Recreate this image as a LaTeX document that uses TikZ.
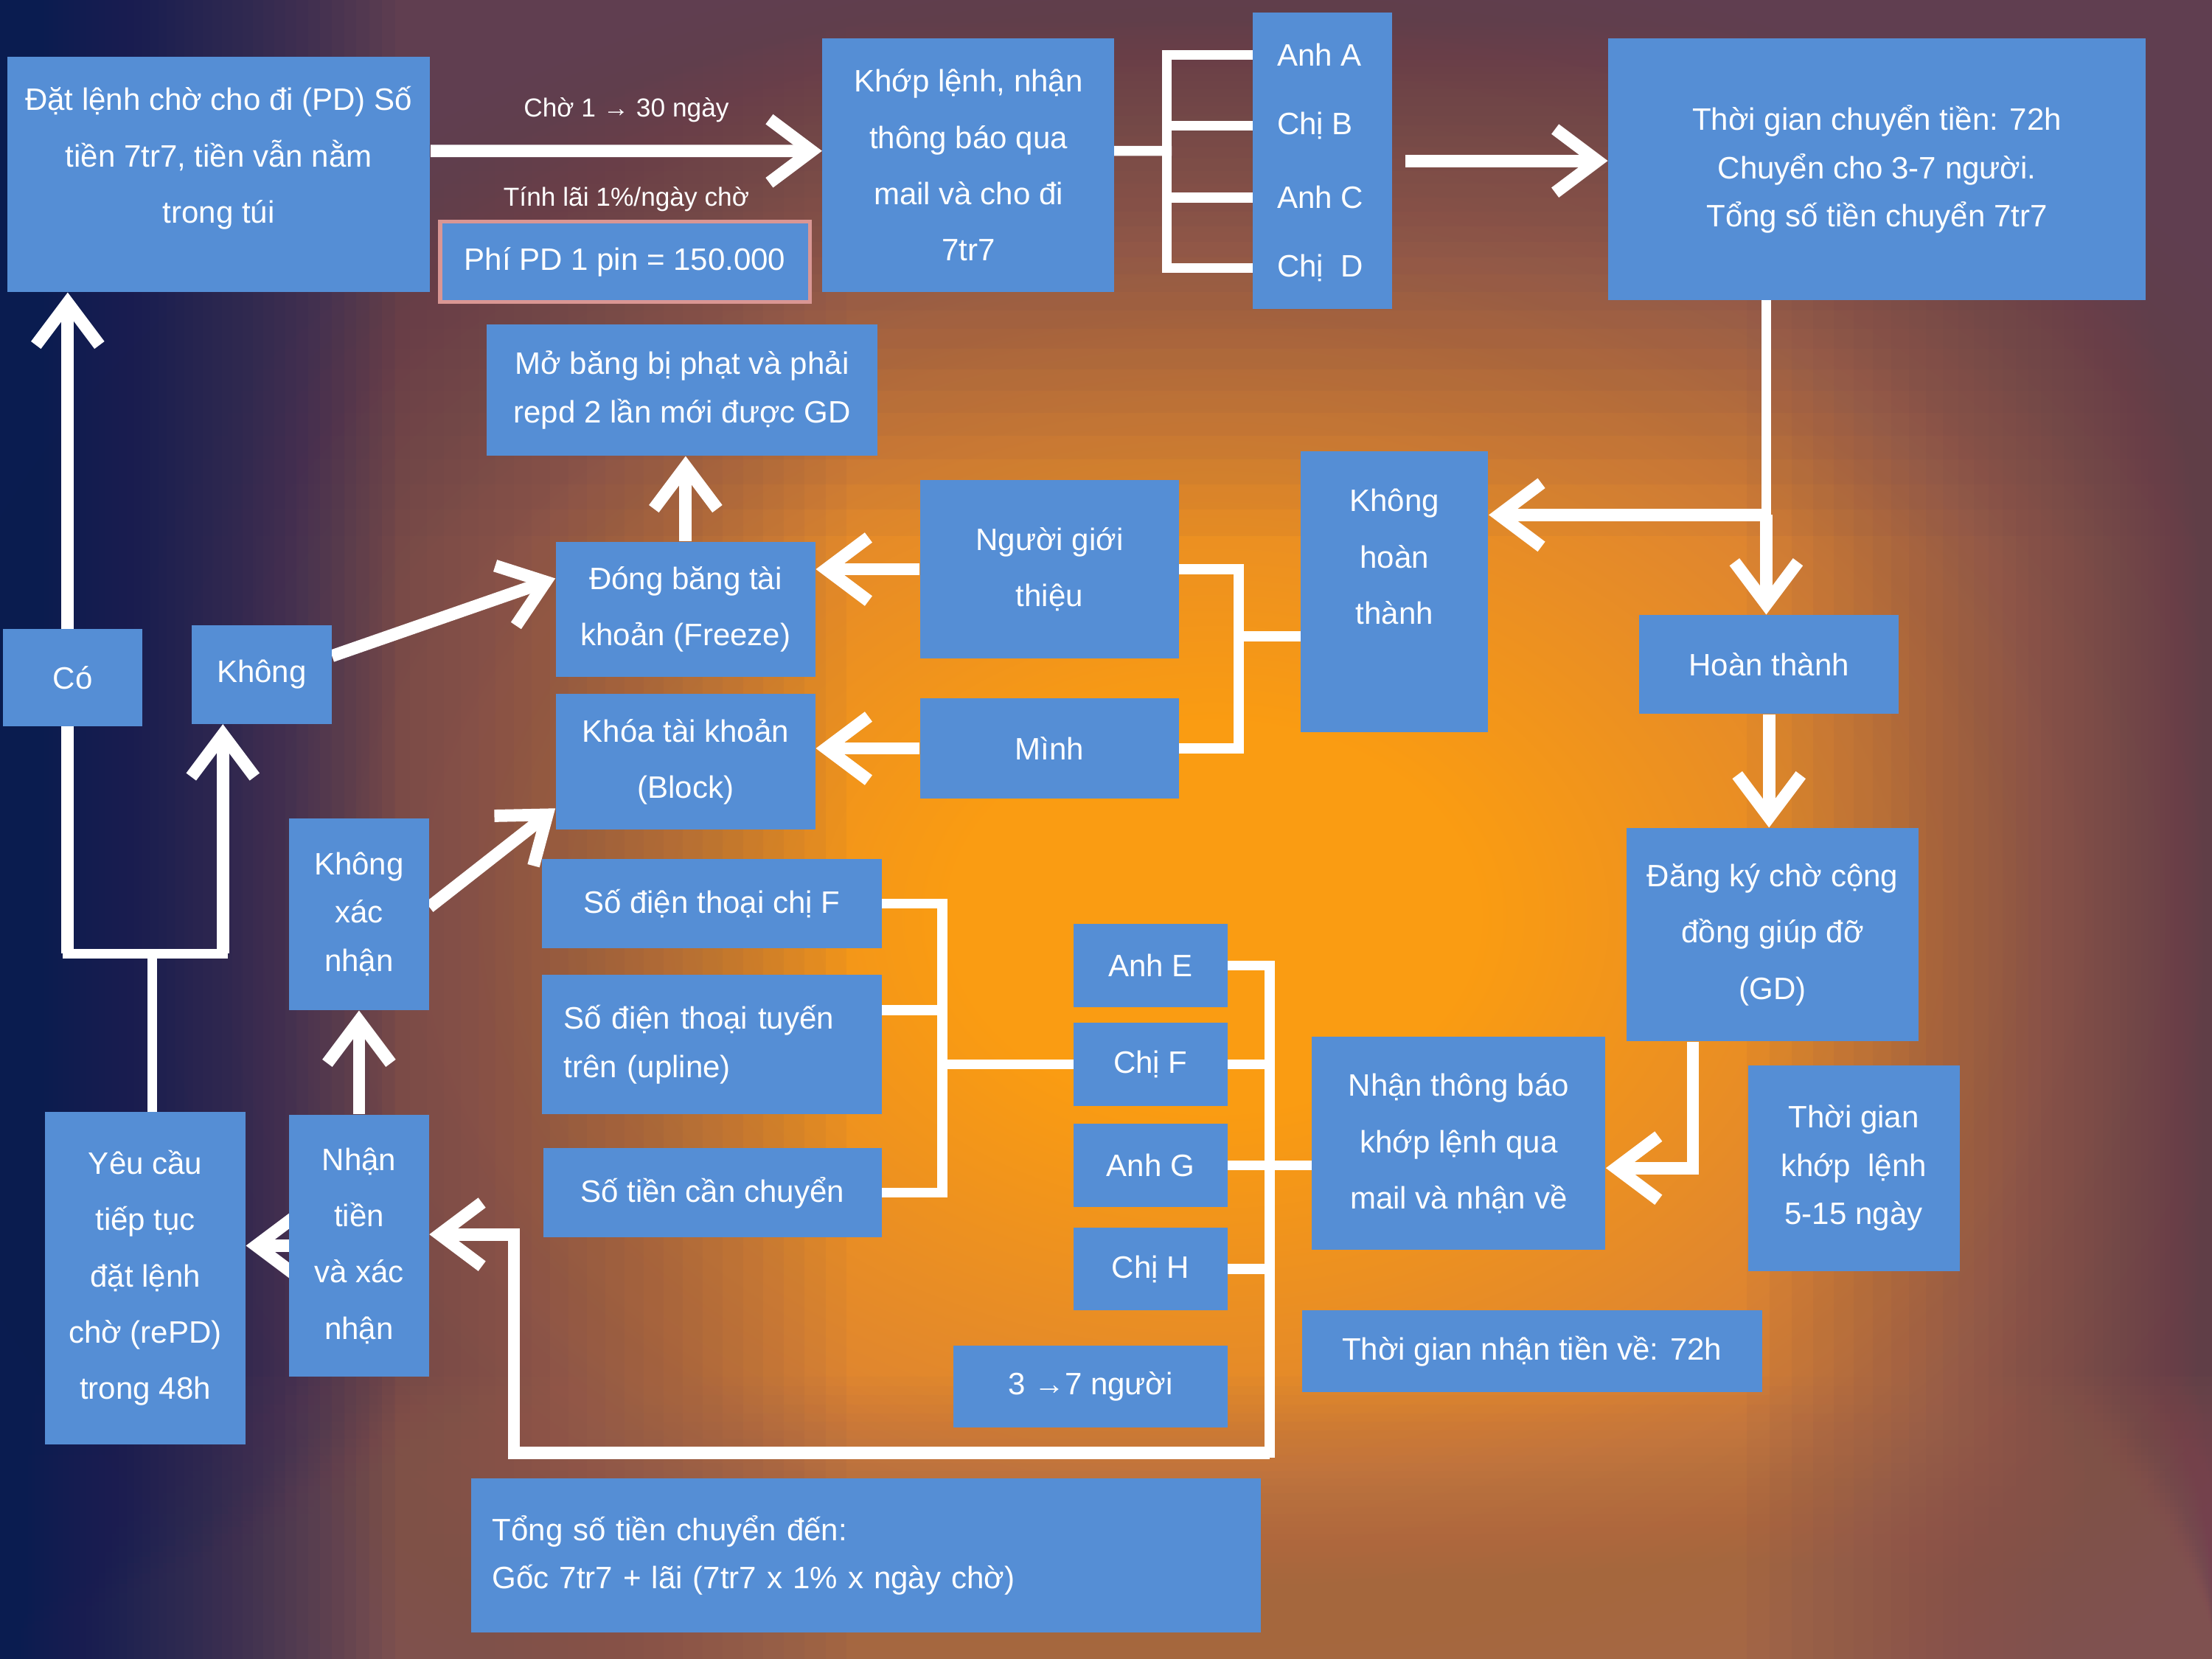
\documentclass[tikz,border=0pt]{standalone}
\usepackage{fontspec}
\setmainfont{Liberation Sans}
\usetikzlibrary{arrows.meta}

\definecolor{boxblue}{RGB}{85,142,213}
\definecolor{pinkline}{RGB}{217,150,148}
\definecolor{navybg}{RGB}{10,28,98}
\definecolor{purplebg}{RGB}{96,62,90}
\definecolor{brownbg}{RGB}{165,103,80}

\pgfdeclareradialshading{glow}{\pgfpointorigin}{rgb(0bp)=(0.98,0.61,0.07); rgb(5bp)=(0.98,0.61,0.07); rgb(14bp)=(0.87,0.52,0.19); rgb(25bp)=(0.647,0.404,0.314); rgb(50bp)=(0.647,0.404,0.314)}

\pgfdeclarelayer{bg}
\pgfdeclarelayer{wires}
\pgfsetlayers{bg,wires,main}

\begin{document}
\begin{tikzpicture}[x=0.02cm, y=-0.02cm,
    box/.style={fill=boxblue, text=white, align=center, inner sep=2pt, font=\fontsize{12.5}{22.7}\selectfont},
    tight/.style={font=\fontsize{12.5}{19.5}\selectfont},
    payee/.style={text=white, anchor=west, inner sep=0pt, font=\fontsize{12.5}{15}\selectfont},
    note/.style={text=white, font=\fontsize{10.5}{12}\selectfont},
    veil/.style={fill=#1, opacity=0.05},
    link/.style={draw=white, line width=4pt, line cap=rect},
    flow/.style={draw=white, line width=5pt, -{Straight Barb[length=0.6cm, width=0.9cm]}}]

  % background
  \useasboundingbox (0,0) rectangle (1568,1176);
  \begin{pgfonlayer}{bg}
    \clip (0,0) rectangle (1568,1176);
    \fill[brownbg] (0,0) rectangle (1568,1176);
    \shade[shading=glow] (860,650) ellipse [x radius=19cm, y radius=14cm];
    \foreach \i in {1,...,60} {
      \fill[veil=purplebg] (0,0) rectangle (1568,{380*(\i/60)^3});
      \fill[veil=purplebg] ({1568-330*(\i/60)^3},0) rectangle (1568,1176);
      \fill[veil=purplebg] (0,0) rectangle ({600*(\i/60)^1.5},1176);
      \fill[veil=brownbg] (0,{1176-200*(\i/60)^2}) rectangle (1568,1176);
    }
    \foreach \i in {1,...,60}
      \fill[veil=navybg] (0,0) rectangle ({280*(\i/60)^2},1176);
  \end{pgfonlayer}

  % top row
  \node[box, text depth=0.55cm, minimum width=6cm, minimum height=3.34cm] (pd) at (155,123.5) {Đặt lệnh chờ cho đi (PD) Số\\tiền 7tr7, tiền vẫn nằm\\trong túi};
  \node[box, minimum width=4.14cm, minimum height=3.6cm] (khop) at (686.5,117) {Khớp lệnh, nhận\\thông báo qua\\mail và cho đi\\7tr7};
  \node[box, draw=pinkline, line width=1.5pt, minimum width=5.24cm, minimum height=1.14cm] (fee) at (443,185.5) {Phí PD 1 pin = 150.000};
  \node[box, minimum width=1.98cm, minimum height=4.2cm] (payees) at (937.5,114) {};
  \node[payee] (anhA) at (905,39) {Anh A};
  \node[payee] (chiB) at (905,89) {Chị B};
  \node[payee] (anhC) at (905,140) {Anh C};
  \node[payee] (chiD) at (905,190) {Chị~ D};
  \node[box, tight, minimum width=7.62cm, minimum height=3.72cm] (chuyen) at (1330.5,120) {Thời gian chuyển tiền: 72h\\Chuyển cho 3-7 người.\\Tổng số tiền chuyển 7tr7};

  % right column
  \node[box, text depth=1cm, minimum width=2.66cm, minimum height=3.98cm] (khonght) at (988.5,419.5) {Không\\hoàn\\thành};
  \node[box, minimum width=3.68cm, minimum height=1.4cm] (hoan) at (1254,471) {Hoàn thành};
  \node[box, minimum width=4.14cm, minimum height=3.02cm] (dangky) at (1256.5,662.5) {Đăng ký chờ cộng\\đồng giúp đỡ\\(GD)};
  \node[box, minimum width=4.16cm, minimum height=3.02cm] (nhantb) at (1034,810.5) {Nhận thông báo\\khớp lệnh qua\\mail và nhận về};
  \node[box, tight, minimum width=3cm, minimum height=2.92cm] (khoplenh) at (1314,828) {Thời gian\\khớp~ lệnh\\5-15 ngày};
  \node[box, minimum width=6.52cm, minimum height=1.16cm] (nhan72) at (1086,958) {Thời gian nhận tiền về: 72h};

  % middle
  \node[box, minimum width=3.68cm, minimum height=2.54cm] (gioithieu) at (744,403.5) {Người giới\\thiệu};
  \node[box, minimum width=3.68cm, minimum height=1.42cm] (minh) at (744,530.5) {Mình};
  \node[box, minimum width=3.68cm, minimum height=1.92cm] (dongbang) at (486,432) {Đóng băng tài\\khoản (Freeze)};
  \node[box, minimum width=3.68cm, minimum height=1.92cm] (khoa) at (486,540) {Khóa tài khoản\\(Block)};
  \node[box, tight, minimum width=5.54cm, minimum height=1.86cm] (moban) at (483.5,276.5) {Mở băng bị phạt và phải\\repd 2 lần mới được GD};

  % receivers
  \node[box, minimum width=2.18cm, minimum height=1.18cm] (anhE) at (815.5,684.5) {Anh E};
  \node[box, minimum width=2.18cm, minimum height=1.18cm] (chiF) at (815.5,754.5) {Chị F};
  \node[box, minimum width=2.18cm, minimum height=1.18cm] (anhG) at (815.5,826) {Anh G};
  \node[box, minimum width=2.18cm, minimum height=1.18cm] (chiH) at (815.5,899.5) {Chị H};
  \node[box, minimum width=3.88cm, minimum height=1.16cm] (ba7) at (773,983) {3 →7 người};
  \node[box, tight, minimum width=11.2cm, minimum height=2.18cm, text width=10.6cm, align=left] (tong) at (614,1102.5) {Tổng số tiền chuyển đến:\\Gốc 7tr7 + lãi (7tr7 x 1\% x ngày chờ)};

  % phone boxes
  \node[box, minimum width=4.82cm, minimum height=1.26cm] (sdtF) at (504.5,640.5) {Số điện thoại chị F};
  \node[box, tight, minimum width=4.82cm, minimum height=1.98cm, text width=4.2cm, align=left] (sdtUp) at (504.5,740.5) {Số điện thoại tuyến\\trên (upline)};
  \node[box, minimum width=4.8cm, minimum height=1.26cm] (sotien) at (505,845.5) {Số tiền cần chuyển};

  % left column
  \node[box, minimum width=1.98cm, minimum height=1.4cm] (khong) at (185.5,478) {Không};
  \node[box, tight, minimum width=1.98cm, minimum height=2.72cm] (kxn) at (254.5,648) {Không\\xác\\nhận};
  \node[box, minimum width=1.98cm, minimum height=3.72cm] (nhtien) at (254.5,883) {Nhận\\tiền\\và xác\\nhận};
  \node[box, minimum width=2.84cm, minimum height=4.72cm] (yeucau) at (103,906) {Yêu cầu\\tiếp tục\\đặt lệnh\\chờ (rePD)\\trong 48h};
  \node[box, minimum width=1.98cm, minimum height=1.38cm] (co) at (51.5,480.5) {Có};

  \begin{pgfonlayer}{wires}
    % PD -> khop lenh
    \draw[flow] ([yshift=0.33cm]pd.east) -- ([yshift=0.2cm]khop.west)
      node[note, midway, above=0.2cm] {Chờ 1 → 30 ngày}
      node[note, midway, below=0.3cm] {Tính lãi 1\%/ngày chờ};

    % khop lenh -> A B C D
    \coordinate (splitA) at (827,107);
    \draw[link] ([yshift=0.2cm]khop.east) -- (splitA);
    \draw[link] (splitA |- anhA) -- (splitA |- chiD);
    \foreach \n in {anhA,chiB,anhC,chiD}
      \draw[link] (splitA |- \n) -- (payees.west |- \n);
    \draw[flow] ([xshift=5pt]payees.east) -- (chuyen.west |- payees.east);

    % hoan thanh / khong hoan thanh
    \coordinate (forkK) at (1252,365);
    \draw[link] (chuyen.south -| forkK) -- (forkK);
    \draw[flow] (forkK) -- (hoan.north -| forkK);
    \draw[flow] (forkK) -- (khonght.east |- forkK);
    \draw[flow] (hoan.south) -- (hoan.south |- dangky.north);
    \draw[flow] ([xshift=-1.13cm]dangky.south) |- ([yshift=-0.35cm]nhantb.east);

    % nguoi gioi thieu / minh
    \coordinate (jointK) at (878,451);
    \draw[link] (khonght.west |- jointK) -- (jointK);
    \draw[link] (gioithieu.east) -| (jointK);
    \draw[link] (minh.east) -| (jointK);
    \draw[flow] (gioithieu.west) -- (dongbang.east |- gioithieu.west);
    \draw[flow] (minh.west) -- (khoa.east |- minh.west);
    \draw[flow] (dongbang.north) -- (moban.south -| dongbang.north);

    % phone boxes -> chi F
    \coordinate (jointF) at (668,754.5);
    \coordinate (jointUp) at (668,716);
    \draw[link] (sdtF.east) -| (jointF);
    \draw[link] (sotien.east) -| (jointF);
    \draw[link] (sdtUp.east |- jointUp) -- (jointUp);
    \draw[link] (jointF) -- (chiF.west);

    % receivers -> nhan tien
    \coordinate (rail) at (900,1030);
    \draw[link] (anhE.east) -| (rail);
    \foreach \n in {chiF,anhG,chiH}
      \draw[link] (\n.east) -- (\n.east -| rail);
    \draw[link] (anhG.east -| rail) -- (nhantb.west |- anhG.east);
    \draw[flow] (rail) -| ([xshift=1.2cm, yshift=0.16cm]nhtien.east) -- ([yshift=0.16cm]nhtien.east);

    % left side
    \draw[flow] (nhtien.north) -- (kxn.south);
    \draw[flow] (nhtien.west) -- (yeucau.east |- nhtien.west);
    \draw[flow] ([yshift=0.1cm]kxn.east) -- ([yshift=-0.66cm]khoa.west);
    \draw[flow] ([yshift=0.26cm]khong.east) -- ([yshift=0.44cm]dongbang.west);
    \coordinate (loopL) at (48,676);
    \coordinate (loopR) at (158,676);
    \draw[link] ([xshift=0.1cm]yeucau.north) -- ([xshift=0.1cm]yeucau.north |- loopL);
    \draw[link] (loopL) -- (loopR);
    \draw[flow] (loopL) -- (loopL |- pd.south);
    \draw[flow] (loopR) -- (loopR |- khong.south);
  \end{pgfonlayer}

\end{tikzpicture}
\end{document}
